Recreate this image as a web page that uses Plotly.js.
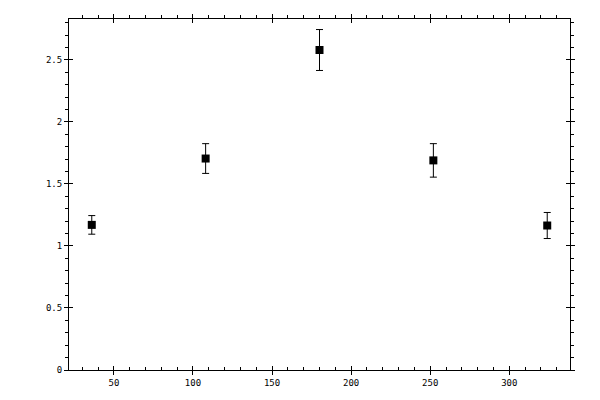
<!DOCTYPE html>
<html>
<head>
<meta charset="utf-8">
<script src="https://cdn.plot.ly/plotly-3.0.1.min.js"></script>
<style>
  html, body { margin: 0; padding: 0; background: #fff; }
  #chart { width: 600px; height: 400px; }
</style>
</head>
<body>
<div id="chart"></div>
<script>
// values
var xVals = [36, 108, 180, 252, 324];
var yVals = [1.17, 1.705, 2.58, 1.69, 1.165];
var yErr = [0.075, 0.12, 0.165, 0.135, 0.105];

var xRange = [21.6, 338.4];
var yRange = [0, 2.83];

var trace = {
  x: xVals,
  y: yVals,
  type: 'scatter',
  mode: 'markers',
  marker: {symbol: 'square', size: 8, color: '#000'},
  error_y: {type: 'data', array: yErr, visible: true, color: '#000', thickness: 1, width: 3.5},
  hoverinfo: 'none',
  showlegend: false
};

var tickFont = {family: 'DejaVu Sans Mono, monospace', size: 9, color: '#000'};

// base axis settings, each frame side is built from two axes
// so that the major ticks cross the frame line
function ax(extra) {
  var a = {
    showgrid: false,
    zeroline: false,
    showline: false,
    linecolor: '#000',
    linewidth: 1,
    tickcolor: '#000',
    tickwidth: 1,
    ticklen: 4,
    showticklabels: false,
    tickfont: tickFont,
    fixedrange: true
  };
  for (var k in extra) a[k] = extra[k];
  return a;
}

var layout = {
  width: 600,
  height: 400,
  margin: {l: 69, r: 30, t: 19, b: 30, pad: 0},
  paper_bgcolor: '#fff',
  plot_bgcolor: '#fff',
  showlegend: false,
  // bottom
  xaxis: ax({range: xRange, side: 'bottom', showline: true, ticks: 'outside', dtick: 50, tick0: 0,
    showticklabels: true, minor: {ticks: 'inside', ticklen: 3, dtick: 10, tick0: 0, tickcolor: '#000'}}),
  xaxis2: ax({range: xRange, overlaying: 'x', side: 'bottom', ticks: 'inside', dtick: 50, tick0: 0}),
  // top
  xaxis3: ax({range: xRange, overlaying: 'x', side: 'top', showline: true, ticks: 'outside', dtick: 50, tick0: 0,
    minor: {ticks: 'outside', ticklen: 3, dtick: 10, tick0: 0, tickcolor: '#000'}}),
  xaxis4: ax({range: xRange, overlaying: 'x', side: 'top', ticks: 'inside', dtick: 50, tick0: 0}),
  // left
  yaxis: ax({range: yRange, side: 'left', showline: true, ticks: 'outside', dtick: 0.5, tick0: 0,
    showticklabels: true, minor: {ticks: 'outside', ticklen: 3, dtick: 0.1, tick0: 0, tickcolor: '#000'}}),
  yaxis2: ax({range: yRange, overlaying: 'y', side: 'left', ticks: 'inside', dtick: 0.5, tick0: 0}),
  // right
  yaxis3: ax({range: yRange, overlaying: 'y', side: 'right', showline: true, ticks: 'outside', dtick: 0.5, tick0: 0,
    minor: {ticks: 'outside', ticklen: 3, dtick: 0.1, tick0: 0, tickcolor: '#000'}}),
  yaxis4: ax({range: yRange, overlaying: 'y', side: 'right', ticks: 'inside', dtick: 0.5, tick0: 0})
};

// empty traces so that every overlay axis gets drawn
var data = [
  trace,
  {x: [], y: [], xaxis: 'x2', yaxis: 'y2', type: 'scatter', mode: 'markers', showlegend: false},
  {x: [], y: [], xaxis: 'x3', yaxis: 'y3', type: 'scatter', mode: 'markers', showlegend: false},
  {x: [], y: [], xaxis: 'x4', yaxis: 'y4', type: 'scatter', mode: 'markers', showlegend: false}
];

Plotly.newPlot('chart', data, layout, {displayModeBar: false, staticPlot: true});
</script>
</body>
</html>
